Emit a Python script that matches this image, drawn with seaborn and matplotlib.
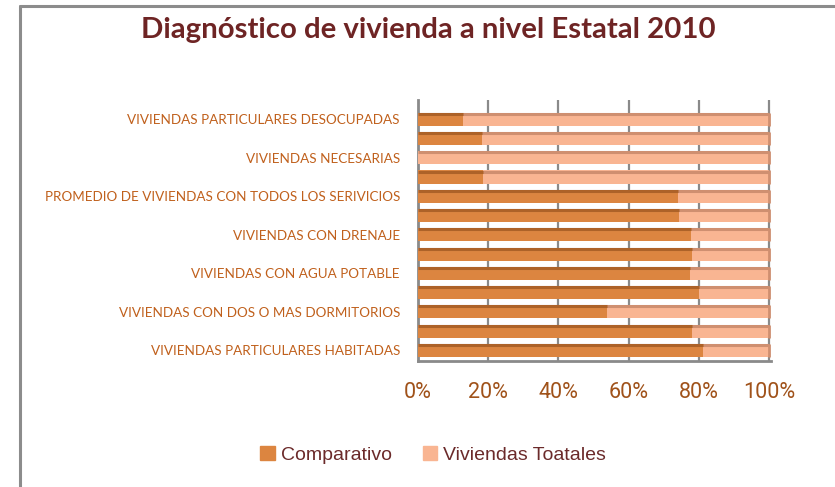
import matplotlib
matplotlib.use("Agg")
import matplotlib.pyplot as plt
from matplotlib.lines import Line2D
import seaborn as sns
import pandas as pd

# Row labels, top to bottom (every other row is left without a label)
categorias = [
    "VIVIENDAS PARTICULARES DESOCUPADAS", "",
    "VIVIENDAS NECESARIAS", "",
    "PROMEDIO DE VIVIENDAS CON TODOS LOS SERIVICIOS", "",
    "VIVIENDAS CON DRENAJE", "",
    "VIVIENDAS CON AGUA POTABLE", "",
    "VIVIENDAS CON DOS O MAS DORMITORIOS", "",
    "VIVIENDAS PARTICULARES HABITADAS",
]
# Share of each row (percent) for the two stacked series
comparativo = [12.9, 18.3, 0.0, 18.6, 74.1, 74.5, 77.7, 78.2, 77.6, 80.0, 53.8, 78.0, 81.1]
totales = [87.1, 81.7, 100.0, 81.4, 25.9, 25.5, 22.3, 21.8, 22.4, 20.0, 46.2, 22.0, 18.9]
ticks = [0, 20, 40, 60, 80, 100]
tick_labels = ["0%", "20%", "40%", "60%", "80%", "100%"]

df = pd.DataFrame({
    "pos": list(range(len(categorias))),
    "Comparativo": comparativo,
    "Viviendas Toatales": totales,
})
df["acumulado"] = df["Comparativo"] + df["Viviendas Toatales"]

c_dark = "#dc8540"
c_light = "#f9b592"
c_dark_top = "#ad6228"
c_light_top = "#cf8f70"
c_grid = "#8a8a8a"

sns.set_theme(style="white")
plt.rcParams["font.family"] = ["Lato", "DejaVu Sans"]

W, H = 835, 487
fig = plt.figure(figsize=(W / 100, H / 100), dpi=100)
ax = fig.add_axes([418 / W, 1 - 361 / H, (771 - 418) / W, (361 - 100) / H])

bh = 0.68
sns.barplot(data=df, x="acumulado", y="pos", orient="h", color=c_light,
            width=bh, saturation=1, ax=ax, zorder=3, edgecolor="none")
sns.barplot(data=df, x="Comparativo", y="pos", orient="h", color=c_dark,
            width=bh, saturation=1, ax=ax, zorder=4, edgecolor="none")

# darker upper face and right face give the bars some depth
pos = df["pos"].to_numpy()
ax.hlines(pos - bh / 2 + 0.06, 0, df["acumulado"], color=c_light_top, lw=2.2, zorder=5)
ax.hlines(pos - bh / 2 + 0.06, 0, df["Comparativo"], color=c_dark_top, lw=2.2, zorder=6)
ax.vlines(df["acumulado"], pos - bh / 2, pos + bh / 2, color=c_light_top, lw=2, zorder=6)

ax.set_xlim(0, 100.6)
ax.set_ylim(12.55, -1.0)
ax.set_xticks(ticks)
ax.set_xticklabels(tick_labels)
ax.set_yticks(pos)
ax.set_yticklabels(categorias)
ax.set_xlabel("")
ax.set_ylabel("")

for t in ticks:
    ax.axvline(t, color=c_grid, lw=1.6, zorder=1)

for side in ["top", "right"]:
    ax.spines[side].set_visible(False)
for side in ["left", "bottom"]:
    ax.spines[side].set_color(c_grid)
    ax.spines[side].set_linewidth(2)

ax.tick_params(axis="y", length=0, pad=13, labelsize=9.7, labelcolor="#c0601c")
ax.tick_params(axis="x", length=0, pad=15, labelcolor="#a0521a")
for lab in ax.get_xticklabels():
    lab.set_fontfamily(["Roboto", "DejaVu Sans"])
    lab.set_fontweight("normal")
    lab.set_fontsize(15.5)

fig.text(428 / W, 1 - 30 / H, "Diagnóstico de vivienda a nivel Estatal 2010",
         ha="center", va="center", fontsize=21.2, fontweight="bold",
         color="#6e2424")

handles = [plt.Rectangle((0, 0), 1, 1, color=c_dark),
           plt.Rectangle((0, 0), 1, 1, color=c_light)]
fig.legend(handles, ["Comparativo", "Viviendas Toatales"],
           loc="center", bbox_to_anchor=(433 / W, 1 - 455 / H), ncol=2,
           frameon=False, handlelength=0.75, handleheight=0.75,
           handletextpad=0.3, columnspacing=1.6,
           prop={"family": "Liberation Sans", "size": 14}, labelcolor="#6b2a2a")

# chart frame
fig.add_artist(Line2D([20 / W, 20 / W], [0, 1 - 6 / H], color="#8c8c8c", lw=2.2))
fig.add_artist(Line2D([20 / W, 1], [1 - 6 / H, 1 - 6 / H], color="#8c8c8c", lw=2.2))

fig.savefig("out.png", dpi=100, facecolor="white")
